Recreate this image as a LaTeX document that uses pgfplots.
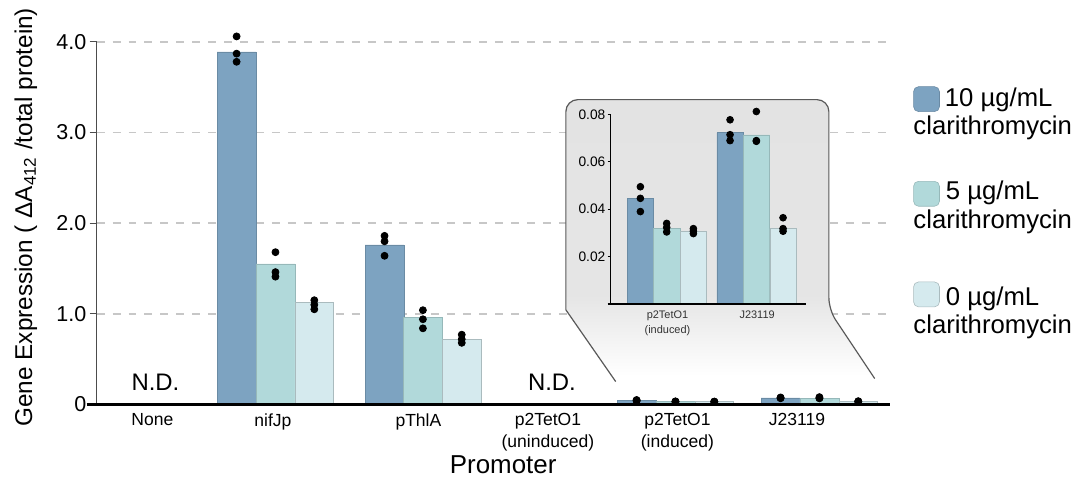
\documentclass[border=0pt]{standalone}
\usepackage{pgfplots}
\pgfplotsset{compat=1.18}
\usepackage{fontspec}
\setmainfont{Liberation Sans}
\definecolor{cTen}{HTML}{7DA3C1}
\definecolor{cFive}{HTML}{B1D9DA}
\definecolor{cZero}{HTML}{D5EAEE}
\pgfdeclareverticalshading{insetshade}{100bp}{color(0bp)=(white); color(26bp)=(white); color(40bp)=(black!10); color(75bp)=(black!11); color(100bp)=(black!11)}
\begin{document}
\begin{tikzpicture}
\begin{scope}[x=0.5pt,y=-0.5pt]
\useasboundingbox (0,0) rectangle (1072,479);
\end{scope}
% ---------------- main axis
\begin{axis}[
  at={(48.5pt,-203pt)}, anchor=south west,
  scale only axis, width=398pt, height=182pt,
  xmin=97, xmax=893, ymin=0, ymax=4,
  axis x line*=bottom, axis y line*=left,
  x axis line style={draw=none},
  y axis line style={draw=black!70, line width=0.6pt},
  tick align=outside,
  ytick={0,1,2,3,4}, yticklabels={0,1.0,2.0,3.0,4.0},
  major tick length=3.5pt,
  y tick style={draw=black!70, line width=0.6pt},
  yticklabel style={font=\fontsize{10.8}{12}\selectfont, inner sep=1.5pt},
  ymajorgrids,
  grid style={black!22, line width=0.7pt, dash pattern=on 4pt off 4pt},
  xtick={153,274,420,550,680,800},
  xticklabels={None,nifJp,pThlA,{p2TetO1\\(uninduced)},{p2TetO1\\(induced)},J23119},
  xticklabel style={align=center, anchor=north, inner sep=0pt, yshift=-0.9pt, font=\fontsize{8.8}{11}\selectfont},
  x tick style={draw=none},
  xlabel={Promoter},
  xlabel style={at={(axis description cs:0.5126,-0.167)}, anchor=center, font=\fontsize{13}{15}\selectfont},
  ylabel={Gene Expression ( ΔA\textsubscript{412} /total protein)},
  ylabel style={at={(axis description cs:-0.0892,0.5165)}, anchor=center, font=\fontsize{12.2}{14}\selectfont},
  clip=false,
]
% 10 ug/mL
\addplot[ybar, bar width=39, bar shift=0pt, fill=cTen, draw=cTen!85!black, line width=0.3pt]
  coordinates {(237.5,3.89) (386,1.76) (639,0.0446) (783.5,0.0723)};
% 5 ug/mL
\addplot[ybar, bar width=39, bar shift=0pt, fill=cFive, draw=cFive!85!black, line width=0.3pt]
  coordinates {(276.5,1.55) (424.5,0.96) (678,0.0318) (822.5,0.0714)};
% 0 ug/mL
\addplot[ybar, bar width=39, bar shift=0pt, fill=cZero, draw=cZero!80!black, line width=0.3pt]
  coordinates {(315.5,1.13) (463.5,0.72) (717,0.0307) (861.5,0.0318)};
% replicate points
\addplot[only marks, mark=*, mark size=1.75pt, mark options={fill=black, draw=black}]
  coordinates {(237.5,4.06) (237.5,3.87) (237.5,3.78)
               (386,1.86) (386,1.80) (386,1.64)
               (639,0.0495) (639,0.0446) (639,0.039)
               (783.5,0.0778) (783.5,0.0715) (783.5,0.069)};
\addplot[only marks, mark=*, mark size=1.75pt, mark options={fill=black, draw=black}]
  coordinates {(276.5,1.68) (276.5,1.46) (276.5,1.41)
               (424.5,1.04) (424.5,0.94) (424.5,0.84)
               (678,0.034) (678,0.0323) (678,0.0304)
               (822.5,0.0813) (822.5,0.069) (822.5,0.0687)};
\addplot[only marks, mark=*, mark size=1.75pt, mark options={fill=black, draw=black}]
  coordinates {(315.5,1.15) (315.5,1.10) (315.5,1.05)
               (463.5,0.77) (463.5,0.72) (463.5,0.68)
               (717,0.0318) (717,0.0307) (717,0.0297)
               (861.5,0.0364) (861.5,0.0318) (861.5,0.0307)};
\node[font=\fontsize{12}{14}\selectfont] at (axis cs:156,0.25) {N.D.};
\node[font=\fontsize{12}{14}\selectfont] at (axis cs:554,0.25) {N.D.};
\end{axis}
% ---------------- inset background and main x axis line
\begin{scope}[x=0.5pt,y=-0.5pt]
\shade[shading=insetshade] (568,311) [rounded corners=6pt] -- (568,100) -- (832,100) -- (832,311) [sharp corners] -- (878,380) -- (618,383) -- cycle;
\draw[black!65, line width=0.6pt] (618,383) -- (568,311) [rounded corners=6pt] -- (568,100) -- (832,100) -- (832,311) [sharp corners] -- (878,380);
\draw[black, line width=1.3pt] (87,406) -- (893,406);
\end{scope}
% ---------------- inset axis
\begin{axis}[
  at={(306.5pt,-152.5pt)}, anchor=south west,
  scale only axis, width=98pt, height=95pt,
  xmin=613, xmax=809, ymin=0, ymax=0.08,
  scaled y ticks=false,
  axis x line*=bottom, axis y line*=left,
  x axis line style={draw=none},
  y axis line style={draw=black, line width=0.6pt},
  tick align=outside,
  ytick={0.02,0.04,0.06,0.08}, yticklabels={0.02,0.04,0.06,0.08},
  major tick length=1.5pt,
  y tick style={draw=black, line width=0.5pt},
  yticklabel style={font=\fontsize{6.9}{8}\selectfont, inner sep=1pt},
  xtick={670,760},
  xticklabels={{p2TetO1\\(induced)},J23119},
  xticklabel style={align=center, anchor=north, inner sep=0pt, yshift=-2pt, font=\fontsize{5.5}{7.2}\selectfont, text=black!80},
  x tick style={draw=none},
  clip=false,
]
\addplot[ybar, bar width=26.5, bar shift=0pt, fill=cTen, draw=cTen!85!black, line width=0.3pt]
  coordinates {(642.8,0.0446) (732.8,0.0723)};
\addplot[ybar, bar width=26.5, bar shift=0pt, fill=cFive, draw=cFive!85!black, line width=0.3pt]
  coordinates {(669.2,0.0318) (759.2,0.0714)};
\addplot[ybar, bar width=26.5, bar shift=0pt, fill=cZero, draw=cZero!80!black, line width=0.3pt]
  coordinates {(696,0.0307) (786,0.0318)};
\addplot[only marks, mark=*, mark size=1.7pt, mark options={fill=black, draw=black}]
  coordinates {(642.8,0.0495) (642.8,0.0446) (642.8,0.039)
               (732.8,0.0778) (732.8,0.0715) (732.8,0.069)};
\addplot[only marks, mark=*, mark size=1.7pt, mark options={fill=black, draw=black}]
  coordinates {(669.2,0.034) (669.2,0.0323) (669.2,0.0304)
               (759.2,0.0813) (759.2,0.069) (759.2,0.0687)};
\addplot[only marks, mark=*, mark size=1.7pt, mark options={fill=black, draw=black}]
  coordinates {(696,0.0318) (696,0.0307) (696,0.0297)
               (786,0.0364) (786,0.0318) (786,0.0307)};
\end{axis}
% ---------------- inset x line and legend
\begin{scope}[x=0.5pt,y=-0.5pt]
\draw[black, line width=1.3pt] (610,305) -- (809,305);
\draw[cTen!85!black, fill=cTen, rounded corners=2.5pt, line width=0.3pt] (917,87) rectangle (943,112);
\draw[cFive!85!black, fill=cFive, rounded corners=2.5pt, line width=0.3pt] (917,182) rectangle (943,207);
\draw[cZero!80!black, fill=cZero, rounded corners=2.5pt, line width=0.3pt] (917,283) rectangle (943,308);
\begin{scope}[every node/.style={inner sep=0pt, anchor=base west, font=\fontsize{12.9}{15}\selectfont}]
\node at (948,106.5) {10 µg/mL};
\node at (916.5,135) {clarithromycin};
\node at (949,200) {5 µg/mL};
\node at (916.5,229) {clarithromycin};
\node at (949,307) {0 µg/mL};
\node at (916.5,335) {clarithromycin};
\end{scope}
\end{scope}
\end{tikzpicture}
\end{document}
